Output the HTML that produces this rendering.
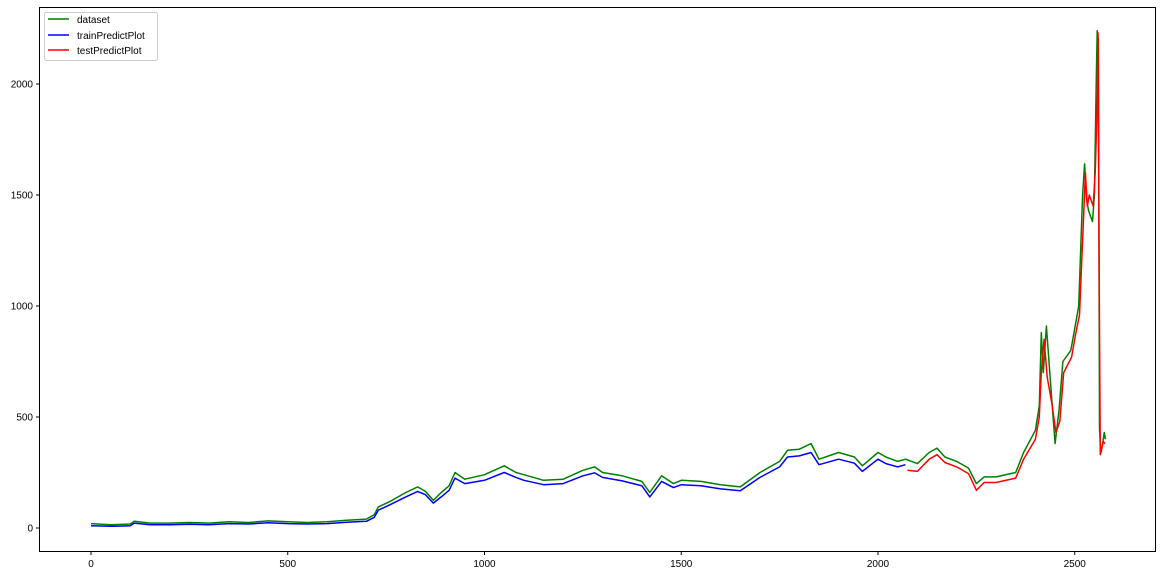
<!DOCTYPE html>
<html><head><meta charset="utf-8">
<style>
body{margin:0;background:#fff;}
svg text{font-family:"Liberation Sans","DejaVu Sans",sans-serif;font-size:10px;fill:#000;}
</style></head>
<body>
<svg id="chart" width="1162" height="575" xmlns="http://www.w3.org/2000/svg">
<rect x="0" y="0" width="1162" height="575" fill="#fff"/>
<g id="plot"></g>
<rect x="39.5" y="7.5" width="1116" height="544" fill="none" stroke="#000" stroke-width="1"/>
<g id="xticks"></g><g id="yticks"></g>
<g>
<rect x="44.5" y="12.5" width="113" height="48" rx="2" fill="#fff" fill-opacity="0.8" stroke="#ccc"/>
<line x1="48" y1="19" x2="69" y2="19" stroke="green" stroke-width="1.5"/>
<text x="77" y="23">dataset</text>
<line x1="48" y1="35" x2="69" y2="35" stroke="blue" stroke-width="1.5"/>
<text x="77" y="39">trainPredictPlot</text>
<line x1="48" y1="50" x2="69" y2="50" stroke="red" stroke-width="1.5"/>
<text x="77" y="54">testPredictPlot</text>
</g>
</svg>
<script>
const dataX=[0,50,100,110,150,200,250,300,350,400,450,500,550,600,650,700,720,730,760,800,830,850,870,890,910,925,950,1000,1050,1080,1100,1150,1200,1250,1280,1300,1350,1400,1420,1450,1480,1500,1550,1600,1650,1700,1750,1770,1800,1830,1850,1900,1940,1960,2000,2020,2050,2070,2100,2130,2150,2170,2200,2230,2250,2270,2300,2350,2370,2400,2410,2415,2420,2428,2440,2450,2460,2470,2490,2500,2510,2520,2525,2530,2535,2545,2550,2555,2557,2560,2563,2566,2570,2575,2578];
const dataY=[20,15,18,30,22,22,25,22,28,25,32,28,25,28,35,40,60,95,120,160,185,165,125,160,190,250,220,240,280,250,240,215,220,260,275,250,235,210,160,235,200,215,210,195,185,250,300,350,355,380,310,340,320,280,340,320,300,310,290,340,360,320,300,270,200,230,230,250,340,440,550,880,700,910,620,380,530,750,800,900,1000,1500,1640,1480,1430,1380,1500,2050,2240,2200,450,340,370,430,400];
const trainX=[0,50,100,110,150,200,250,300,350,400,450,500,550,600,650,700,720,730,760,800,830,850,870,890,910,925,950,1000,1050,1080,1100,1150,1200,1250,1280,1300,1350,1400,1420,1450,1480,1500,1550,1600,1650,1700,1750,1770,1800,1830,1850,1900,1940,1960,2000,2020,2050,2070];
const trainY=[10,8,10,22,15,15,17,15,20,18,24,20,18,20,26,30,48,80,105,140,165,150,112,140,170,225,200,215,250,228,215,195,200,235,248,228,212,190,140,210,182,195,190,176,168,228,275,320,325,340,285,310,292,255,310,290,275,285];
const testX=[2075,2100,2130,2150,2170,2200,2230,2250,2270,2300,2350,2370,2400,2410,2415,2422,2430,2442,2452,2462,2472,2492,2502,2512,2522,2527,2532,2537,2547,2552,2557,2559,2562,2565,2568,2572,2577];
const testY=[260,255,310,330,295,275,245,170,205,205,225,310,400,500,700,850,680,560,430,480,700,770,870,960,1380,1600,1450,1500,1450,1600,1900,2230,1200,330,350,390,380];
const xTicks=[0,500,1000,1500,2000,2500];
const yTicks=[0,500,1000,1500,2000];
const NS="http://www.w3.org/2000/svg";
function sx(v){return 91+v*0.3935;}
function sy(v){return 528-v*0.222;}
function addLine(xs,ys,color,name){
  const p=document.createElementNS(NS,'polyline');
  p.setAttribute('points',xs.map((x,i)=>sx(x).toFixed(1)+','+sy(ys[i]).toFixed(1)).join(' '));
  p.setAttribute('fill','none');p.setAttribute('stroke',color);p.setAttribute('stroke-width','1.5');
  p.setAttribute('stroke-linejoin','round');
  
  
  document.getElementById('plot').appendChild(p);
}
addLine(dataX,dataY,'green','dataset-line');
addLine(trainX,trainY,'blue','train-predict-line');
addLine(testX,testY,'red','test-predict-line');
const xg=document.getElementById('xticks');
xTicks.forEach(t=>{
  const l=document.createElementNS(NS,'line');
  l.setAttribute('x1',sx(t));l.setAttribute('x2',sx(t));l.setAttribute('y1',551.5);l.setAttribute('y2',555);l.setAttribute('stroke','#000');
  
  
  xg.appendChild(l);
  const tx=document.createElementNS(NS,'text');
  tx.setAttribute('x',sx(t));tx.setAttribute('y',567);tx.setAttribute('text-anchor','middle');tx.textContent=t;
  
  
  xg.appendChild(tx);
});
const yg=document.getElementById('yticks');
yTicks.forEach(t=>{
  const l=document.createElementNS(NS,'line');
  l.setAttribute('x1',36);l.setAttribute('x2',39.5);l.setAttribute('y1',sy(t));l.setAttribute('y2',sy(t));l.setAttribute('stroke','#000');
  
  
  yg.appendChild(l);
  const tx=document.createElementNS(NS,'text');
  tx.setAttribute('x',33);tx.setAttribute('y',sy(t)+3.5);tx.setAttribute('text-anchor','end');tx.textContent=t;
  
  
  yg.appendChild(tx);
});
</script>
</body></html>
